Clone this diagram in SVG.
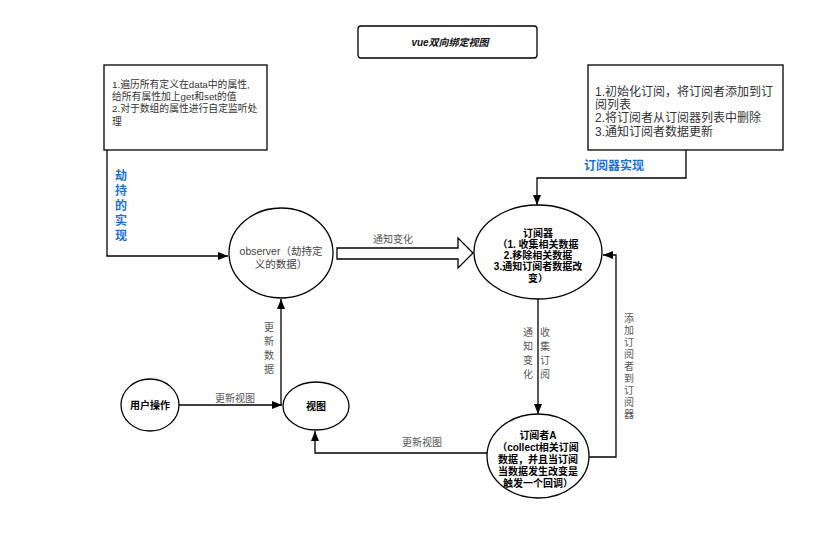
<svg xmlns="http://www.w3.org/2000/svg" width="831" height="547" viewBox="0 0 831 547">
<style>
text{font-family:"Liberation Sans","Noto Sans CJK SC",sans-serif}
.box{fill:#fff;stroke:#000;stroke-width:1.3}
.ell{fill:#fff;stroke:#000;stroke-width:1.3}
.ln{fill:none;stroke:#000;stroke-width:1.3}
.gray{font-size:10px;fill:#555}
.dark{font-size:10px;fill:#000;font-weight:bold}
.note{font-size:9.8px;fill:#333}
.note2{font-size:12px;fill:#333}
.blue{font-size:12px;fill:#1a6fd6;font-weight:bold}
.vt{font-size:10px;fill:#555;text-anchor:middle}
</style>
<defs>
<marker id="ah" markerWidth="10" markerHeight="8" refX="10" refY="4" orient="auto" markerUnits="userSpaceOnUse">
<path d="M0,0 L10,4 L0,8 Z" fill="#000"/>
</marker>
</defs>
<rect width="831" height="547" fill="#fff"/>
<g id="title">
<rect x="358" y="26" width="179" height="32" rx="3" class="box"/>
<text x="450" y="46" text-anchor="middle" font-size="10" font-style="italic" font-weight="bold" fill="#111">vue双向绑定视图</text>
</g>
<g id="note-left">
<rect x="104" y="65" width="163" height="85" class="box"/>
<text class="note" x="112" y="88">1.遍历所有定义在data中的属性,</text>
<text class="note" x="112" y="100">给所有属性加上get和set的值</text>
<text class="note" x="112" y="112">2.对于数组的属性进行自定监听处</text>
<text class="note" x="112" y="125">理</text>
</g>
<g id="note-right">
<rect x="588" y="65" width="195" height="85" class="box"/>
<text class="note2" x="595" y="96">1.初始化订阅，将订阅者添加到订</text>
<text class="note2" x="595" y="109">阅列表</text>
<text class="note2" x="595" y="122">2.将订阅者从订阅器列表中删除</text>
<text class="note2" x="595" y="136">3.通知订阅者数据更新</text>
</g>
<g id="observer">
<ellipse cx="281" cy="253" rx="52" ry="45" class="ell"/>
<text x="281" y="255" text-anchor="middle" font-size="10.5" fill="#444">observer（劫持定</text>
<text x="281" y="268" text-anchor="middle" font-size="10.5" fill="#444">义的数据）</text>
</g>
<g id="dep">
<ellipse cx="538" cy="252" rx="64" ry="47" class="ell"/>
<text class="dark" x="538" y="237" text-anchor="middle">订阅器</text>
<text class="dark" x="538" y="248" text-anchor="middle">（1. 收集相关数据</text>
<text class="dark" x="538" y="259" text-anchor="middle">2.移除相关数据</text>
<text class="dark" x="538" y="270" text-anchor="middle">3.通知订阅者数据改</text>
<text class="dark" x="538" y="282" text-anchor="middle">变）</text>
</g>
<g id="watcher">
<ellipse cx="538" cy="456" rx="51" ry="42" class="ell"/>
<text class="dark" x="538" y="439" text-anchor="middle">订阅者A</text>
<text class="dark" x="538" y="451" text-anchor="middle">（collect相关订阅</text>
<text class="dark" x="538" y="463" text-anchor="middle">数据，并且当订阅</text>
<text class="dark" x="538" y="475" text-anchor="middle">当数据发生改变是</text>
<text class="dark" x="538" y="487" text-anchor="middle">触发一个回调）</text>
</g>
<g id="view">
<ellipse cx="316" cy="406" rx="33" ry="24" class="ell"/>
<text class="dark" x="316" y="410" text-anchor="middle">视图</text>
</g>
<g id="user">
<ellipse cx="150" cy="405" rx="29" ry="26" class="ell"/>
<text class="dark" x="150" y="409" text-anchor="middle">用户操作</text>
</g>
<g id="connectors">
<polyline class="ln" points="107,150 107,256 228,256" marker-end="url(#ah)"/>
<polyline class="ln" points="686,150 686,178 537,178 537,205" marker-end="url(#ah)"/>
<path d="M337,248 L458,248 L458,238 L473,253 L458,268 L458,259 L337,259 Z" fill="#fff" stroke="#000" stroke-width="1.3"/>
<line class="ln" x1="538" y1="299" x2="538" y2="414" marker-end="url(#ah)"/>
<polyline class="ln" points="589,457 616,457 616,255 603,255" marker-end="url(#ah)"/>
<polyline class="ln" points="487,453 315,453 315,431" marker-end="url(#ah)"/>
<line class="ln" x1="179" y1="405" x2="282" y2="405" marker-end="url(#ah)"/>
<line class="ln" x1="281" y1="405" x2="281" y2="299" marker-end="url(#ah)"/>
<text class="gray" x="373" y="243">通知变化</text>
<text class="gray" x="215" y="402">更新视图</text>
<text class="gray" x="402" y="446">更新视图</text>
<text class="blue" x="584" y="170">订阅器实现</text>
<g class="blue" text-anchor="middle">
<text x="121" y="180">劫</text>
<text x="121" y="195">持</text>
<text x="121" y="210">的</text>
<text x="121" y="225">实</text>
<text x="121" y="240">现</text>
</g>
<g class="vt">
<text x="269" y="331">更</text>
<text x="269" y="345">新</text>
<text x="269" y="359">数</text>
<text x="269" y="373">据</text>
<text x="528" y="336">通</text>
<text x="528" y="350">知</text>
<text x="528" y="364">变</text>
<text x="528" y="378">化</text>
<text x="545" y="336">收</text>
<text x="545" y="350">集</text>
<text x="545" y="364">订</text>
<text x="545" y="378">阅</text>
<text x="629" y="322">添</text>
<text x="629" y="334">加</text>
<text x="629" y="346">订</text>
<text x="629" y="358">阅</text>
<text x="629" y="370">者</text>
<text x="629" y="382">到</text>
<text x="629" y="394">订</text>
<text x="629" y="406">阅</text>
<text x="629" y="418">器</text>
</g>
</g>
</svg>
